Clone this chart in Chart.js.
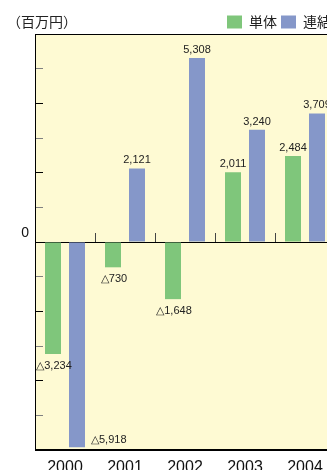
<!DOCTYPE html>
<html>
<head>
<meta charset="utf-8">
<script src="https://cdn.jsdelivr.net/npm/chart.js@4/dist/chart.umd.min.js"></script>
<style>
  html, body { margin: 0; padding: 0; background: #ffffff; overflow: hidden; width: 327px; height: 470px; }
  #wrap { position: relative; width: 335px; height: 470px; }
  #unit { position: absolute; left: 7px; top: 13px; font: 14px/16px "Noto Sans CJK JP", sans-serif; color: #222; white-space: nowrap; }
  canvas { position: absolute; left: 0; top: 0; }
</style>
</head>
<body>
<div id="wrap">
  <canvas id="c" width="335" height="470"></canvas>
  <div id="unit">（百万円）</div>
</div>
<script>
const years = ['2000', '2001', '2002', '2003', '2004'];
const seriesNames = ['単体', '連結'];
const singleValues = [-3234, -730, -1648, 2011, 2484];
const consolidatedValues = [-5918, 2121, 5308, 3240, 3709];
const yMin = -6000, yMax = 6000, yStep = 1000;

const GREEN = '#7fc67b';
const BLUE = '#8597c9';
const PLOT_BG = '#fefad3';

const plotFrame = {
  id: 'plotFrame',
  beforeDraw(chart) {
    const { ctx, chartArea: a } = chart;
    ctx.save();
    ctx.fillStyle = PLOT_BG;
    ctx.fillRect(a.left, a.top, a.right - a.left, a.bottom - a.top);
    ctx.restore();
  },
  afterDraw(chart) {
    const { ctx, chartArea: a } = chart;
    ctx.save();
    ctx.strokeStyle = '#000';
    ctx.lineWidth = 1;
    ctx.strokeRect(Math.round(a.left) + 0.5, Math.round(a.top) + 0.5, Math.round(a.right - a.left) - 1, Math.round(a.bottom - a.top) - 1);
    ctx.restore();
  }
};

const valueLabels = {
  id: 'valueLabels',
  afterDatasetsDraw(chart) {
    const { ctx, chartArea: a } = chart;
    ctx.save();
    ctx.font = '11px "Liberation Sans Narrow", "Arial Narrow", "Liberation Sans", sans-serif';
    ctx.fillStyle = '#222';
    ctx.textBaseline = 'alphabetic';
    chart.data.datasets.forEach((ds, i) => {
      const meta = chart.getDatasetMeta(i);
      meta.data.forEach((bar, j) => {
        const v = ds.data[j];
        const txt = (v < 0 ? '△' : '') + Math.abs(v).toLocaleString('en-US');
        if (v >= 0) {
          ctx.textAlign = 'center';
          ctx.fillText(txt, bar.x, bar.y - 5);
        } else {
          const yb = bar.y + 14.5;
          if (yb > a.bottom - 2) {
            ctx.textAlign = 'left';
            ctx.fillText(txt, bar.x + bar.width / 2 + 6, bar.y - 4);
          } else {
            ctx.textAlign = 'center';
            ctx.fillText(txt, bar.x + 1, yb);
          }
        }
      });
    });
    ctx.restore();
  }
};

new Chart(document.getElementById('c'), {
  type: 'bar',
  data: {
    labels: years,
    datasets: [
      { label: seriesNames[0], data: singleValues, backgroundColor: GREEN, borderWidth: 0 },
      { label: seriesNames[1], data: consolidatedValues, backgroundColor: BLUE, borderWidth: 0 }
    ]
  },
  options: {
    responsive: false,
    animation: false,
    devicePixelRatio: 1,
    categoryPercentage: 0.8,
    barPercentage: 2 / 3,
    layout: { padding: { top: 11, right: 0, bottom: 0, left: 0 } },
    plugins: {
      legend: {
        position: 'top',
        align: 'end',
        maxHeight: 23,
        labels: {
          boxWidth: 15,
          boxHeight: 13,
          padding: 4,
          color: '#222',
          font: { family: '"Noto Sans CJK JP", sans-serif', size: 14 }
        }
      },
      tooltip: { enabled: false }
    },
    scales: {
      x: {
        type: 'category',
        position: 'bottom',
        offset: true,
        grid: { display: true, drawOnChartArea: false, drawTicks: false, offset: true },
        border: { display: true, color: '#000', width: 1 },
        ticks: {
          padding: 8,
          color: '#111',
          font: { family: '"Liberation Sans", Arial, sans-serif', size: 16 },
          maxRotation: 0
        },
        afterFit(s) { s.height = 20; }
      },
      x0: {
        type: 'category',
        position: { y: 0 },
        offset: true,
        z: 1,
        grid: { display: true, offset: true, drawOnChartArea: false, drawTicks: true, tickLength: -10, tickColor: '#444', lineWidth: 1 },
        border: { display: true, color: '#000', width: 1 },
        ticks: { display: false }
      },
      y: {
        type: 'linear',
        position: 'left',
        min: yMin,
        max: yMax,
        grid: {
          drawOnChartArea: false,
          drawTicks: true,
          tickLength: -8,
          lineWidth: 1,
          tickColor: (c) => (c.tick && c.tick.value % 2000 === 0 ? '#000' : '#808080')
        },
        border: { display: true, color: '#000', width: 1 },
        ticks: {
          stepSize: yStep,
          padding: 14,
          labelOffset: -9,
          color: '#111',
          font: { family: '"Liberation Sans", Arial, sans-serif', size: 14 },
          callback: (v) => (v === 0 ? '0' : '')
        },
        afterFit(s) { s.width = 35; s.paddingTop = 0; s.paddingBottom = 0; }
      }
    }
  },
  plugins: [plotFrame, valueLabels]
});
</script>
</body>
</html>
